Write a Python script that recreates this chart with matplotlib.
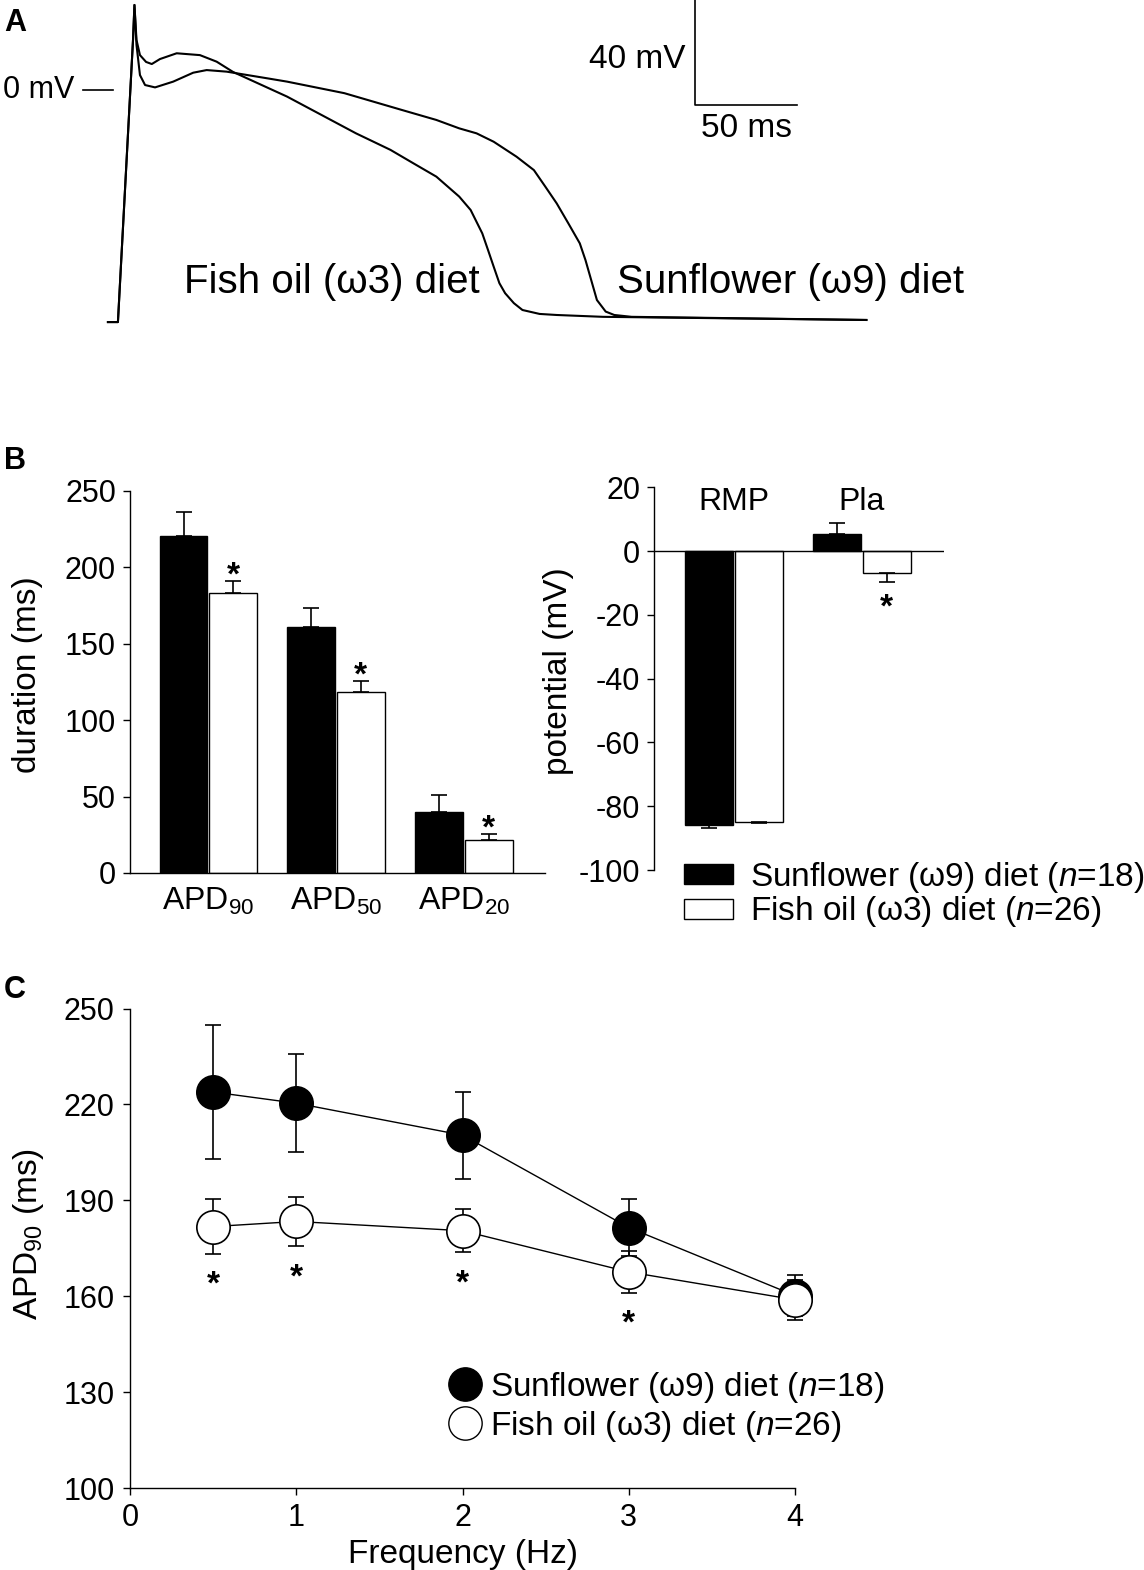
import numpy as np
import matplotlib.pyplot as plt
from matplotlib.lines import Line2D
from matplotlib.patches import Patch

plt.rcParams['font.family'] = ['Liberation Sans', 'DejaVu Sans']
plt.rcParams['mathtext.fontset'] = 'custom'
plt.rcParams['mathtext.rm'] = 'Liberation Sans'
plt.rcParams['mathtext.it'] = 'Liberation Sans:italic'
plt.rcParams['mathtext.bf'] = 'Liberation Sans:bold'
plt.rcParams['axes.linewidth'] = 1.0
plt.rcParams['axes.unicode_minus'] = False

# --- panel A: action potential traces (time in ms, potential in mV)
t_fish = [-11.8, -6.9, 0.5, 1.2, 2.2, 3.9, 6.9, 9.7, 13.7, 21.9, 33.3, 41.5, 49.5,
          76.0, 92.9, 109.8, 126.7, 137.9, 149.2, 160.4, 166.0, 171.7, 174.5, 177.3,
          180.1, 182.9, 187.2, 191.4, 199.8, 208.2, 230.8, 360.0]
v_fish = [-88.6, -88.6, 18.9, 32.2, 18.9, 13.1, 10.5, 9.7, 11.6, 13.8, 13.1, 10.6, 6.7,
          -2.7, -9.7, -16.7, -23.0, -28.1, -33.2, -40.8, -45.9, -54.8, -61.1, -67.5,
          -73.8, -77.6, -81.4, -84.0, -85.5, -85.9, -86.6, -87.8]
t_sun = [-11.8, -6.9, 0.5, 1.2, 2.2, 3.9, 6.4, 11.3, 20.2, 30.0, 36.6, 46.4, 66.0,
         76.0, 104.1, 132.3, 149.2, 160.4, 168.9, 177.3, 188.5, 197.0, 202.6, 208.2,
         213.9, 219.5, 222.3, 225.1, 227.9, 232.2, 236.4, 244.9, 360.0]
v_sun = [-88.6, -88.6, 18.9, 32.2, 17.0, 5.5, 1.7, 0.8, 3.0, 6.4, 7.4, 6.8, 4.3,
         3.0, -1.4, -7.8, -11.6, -14.8, -16.7, -19.9, -25.6, -30.7, -37.0, -43.4,
         -51.0, -58.6, -65.0, -72.6, -80.2, -84.6, -85.9, -86.6, -87.8]

# --- panel B: durations and potentials
apd_labels = ['APD$_{90}$', 'APD$_{50}$', 'APD$_{20}$']
apd_sun = [220.5, 161.0, 40.0]
apd_sun_err = [15.4, 12.5, 10.7]
apd_fish = [182.9, 118.6, 21.4]
apd_fish_err = [8.1, 7.0, 4.3]

pot_labels = ['RMP', 'Pla']
pot_sun = [-86.0, 5.2]
pot_sun_err = [0.7, 3.5]
pot_fish = [-84.8, -6.9]
pot_fish_err = [0.6, 2.8]
pot_sig = [False, True]

# --- panel C: APD90 vs frequency
freq = [0.5, 1, 2, 3, 4]
c_sun = [223.9, 220.4, 210.4, 181.5, 160.2]
c_sun_err = [21.0, 15.3, 13.6, 9.0, 6.3]
c_fish = [181.8, 183.4, 180.5, 167.6, 158.9]
c_fish_err = [8.5, 7.7, 6.7, 6.5, 6.2]
c_sig = [True, True, True, True, False]

lab_sun = 'Sunflower (\u03c99) diet ($n$=18)'
lab_fish = 'Fish oil (\u03c93) diet ($n$=26)'

W, H = 1144, 1570
fig = plt.figure(figsize=(W / 100, H / 100), dpi=100)


def add_ax(left, top, right, bottom):
    return fig.add_axes([left / W, 1 - bottom / H, (right - left) / W, (bottom - top) / H])


def star(ax, x, y, dy):
    # asterisk whose ink is centred dy points away from (x, y)
    ax.annotate('*', (x, y), xytext=(0, dy - 0.58 * 24), textcoords='offset points',
                ha='center', va='baseline', fontsize=24, fontweight='bold',
                annotation_clip=False)


# ---------------- A
axA = add_ax(0, 0, W, 400)
axA.set_xlim(-132 / 2.04, (W - 132) / 2.04)
axA.set_ylim((89.5 - 400) / 2.625, 89.5 / 2.625)
axA.axis('off')
axA.plot(t_fish, v_fish, color='black', lw=1.5)
axA.plot(t_sun, v_sun, color='black', lw=1.5)
# scale bar and 0 mV marker
bar_t, bar_v = 276, -5.9
axA.plot([bar_t, bar_t, bar_t + 50], [bar_v + 40, bar_v, bar_v], color='black', lw=1.2,
         clip_on=False)
axA.plot([-24, -9.3], [0, 0], color='black', lw=1.2)
axA.text(-28.4, 0, '0 mV', ha='right', va='center', fontsize=22)
axA.text(bar_t - 4.5, bar_v + 17.5, '40 mV', ha='right', va='center', fontsize=24)
axA.text(bar_t + 25, bar_v - 8.8, '50 ms', ha='center', va='center', fontsize=24)
axA.text(25.5, -77.5, 'Fish oil (\u03c93) diet', ha='left', va='baseline', fontsize=29)
axA.text(237.7, -77.5, 'Sunflower (\u03c99) diet', ha='left', va='baseline', fontsize=29)

# ---------------- B left
axB1 = add_ax(130, 490.7, 545, 873)
x1 = np.arange(len(apd_labels))
w, off = 0.375, 0.194
ekw = dict(elinewidth=1.2, capthick=1.2, ecolor='black')
axB1.bar(x1 - off, apd_sun, w, color='black', edgecolor='black', lw=1,
         yerr=[np.zeros(3), apd_sun_err], capsize=6, error_kw=ekw)
axB1.bar(x1 + off, apd_fish, w, color='white', edgecolor='black', lw=1,
         yerr=[np.zeros(3), apd_fish_err], capsize=6, error_kw=ekw)
for i in range(3):
    star(axB1, x1[i] + off, apd_fish[i] + apd_fish_err[i], 11)
axB1.set_xlim(-0.613, 2.635)
axB1.set_ylim(0, 250)
axB1.set_yticks(range(0, 251, 50))
axB1.set_xticks(x1)
axB1.set_xticklabels(apd_labels, fontsize=23)
axB1.tick_params(axis='x', length=0, pad=9)
axB1.tick_params(axis='y', direction='out', length=5, width=1, labelsize=22, pad=5)
for s in ['top', 'right']:
    axB1.spines[s].set_visible(False)
axB1.set_ylabel('duration (ms)', fontsize=24, ha='center', va='center')
axB1.yaxis.set_label_coords((28 - 130) / 415, 0.52)

# ---------------- B right
axB2 = add_ax(654, 487.3, 944, 870)
x2 = np.arange(len(pot_labels))
sun_e = [[e if v < 0 else 0 for v, e in zip(pot_sun, pot_sun_err)],
         [e if v >= 0 else 0 for v, e in zip(pot_sun, pot_sun_err)]]
fish_e = [[e if v < 0 else 0 for v, e in zip(pot_fish, pot_fish_err)],
          [e if v >= 0 else 0 for v, e in zip(pot_fish, pot_fish_err)]]
axB2.bar(x2 - off, pot_sun, w, color='black', edgecolor='black', lw=1,
         yerr=sun_e, capsize=6, error_kw=ekw)
axB2.bar(x2 + off, pot_fish, w, color='white', edgecolor='black', lw=1,
         yerr=fish_e, capsize=6, error_kw=ekw)
axB2.axhline(0, color='black', lw=1)
for i in range(2):
    if pot_sig[i]:
        star(axB2, x2[i] + off, pot_fish[i] - pot_fish_err[i], -11)
for i, lab in enumerate(pot_labels):
    axB2.text(x2[i], 15.5, lab, ha='center', va='center', fontsize=23)
axB2.set_xlim(-0.625, 1.64)
axB2.set_ylim(-100, 20)
axB2.set_yticks(range(-100, 21, 20))
axB2.set_xticks([])
axB2.tick_params(axis='y', direction='out', length=5, width=1, labelsize=22, pad=5)
for s in ['top', 'right', 'bottom']:
    axB2.spines[s].set_visible(False)
axB2.set_ylabel('potential (mV)', fontsize=24, ha='center', va='center')
axB2.yaxis.set_label_coords((558 - 654) / 290, 0.52)
axB2.legend([Patch(facecolor='black', edgecolor='black'),
             Patch(facecolor='white', edgecolor='black')],
            [lab_sun, lab_fish], loc='upper left',
            bbox_to_anchor=(684 / W, 1 - 860 / H), bbox_transform=fig.transFigure,
            frameon=False, fontsize=24, handlelength=1.47, handleheight=0.55,
            handletextpad=0.5, labelspacing=-0.02, borderpad=0, borderaxespad=0)

# ---------------- C
axC = add_ax(130, 1008.6, 795, 1488)
axC.errorbar(freq, c_sun, yerr=c_sun_err, fmt='-o', color='black', lw=1, ms=24,
             mfc='black', mec='black', mew=1.2, capsize=6, elinewidth=1.2,
             capthick=1.2, clip_on=False, zorder=2)
axC.errorbar(freq, c_fish, yerr=c_fish_err, fmt='-o', color='black', lw=1, ms=24,
             mfc='white', mec='black', mew=1.2, capsize=6, elinewidth=1.2,
             capthick=1.2, clip_on=False, zorder=3)
for i in range(len(freq)):
    if c_sig[i]:
        star(axC, freq[i], c_fish[i] - c_fish_err[i], -15)
axC.set_xlim(0, 4)
axC.set_ylim(100, 250)
axC.set_xticks(range(0, 5))
axC.set_yticks(range(100, 251, 30))
axC.tick_params(direction='out', length=5, width=1, labelsize=22, pad=6)
for s in ['top', 'right']:
    axC.spines[s].set_visible(False)
axC.set_xlabel('Frequency (Hz)', fontsize=24, labelpad=4)
axC.set_ylabel('APD$_{90}$ (ms)', fontsize=24, ha='center', va='center')
axC.yaxis.set_label_coords((28 - 130) / 665, 0.53)
axC.legend([Line2D([], [], ls='none', marker='o', ms=24, mfc='black', mec='black'),
            Line2D([], [], ls='none', marker='o', ms=24, mfc='white', mec='black')],
           [lab_sun, lab_fish], loc='upper left',
           bbox_to_anchor=(448 / W, 1 - 1370 / H), bbox_transform=fig.transFigure,
           frameon=False, fontsize=24, handlelength=1.0, handletextpad=0.25,
           labelspacing=0.12, borderpad=0, borderaxespad=0)

# panel letters
for letter, y in [('A', 23), ('B', 461), ('C', 990)]:
    fig.text(15 / W, 1 - y / H, letter, ha='center', va='center', fontsize=22,
             fontweight='bold')

fig.savefig('out.png', dpi=100)
